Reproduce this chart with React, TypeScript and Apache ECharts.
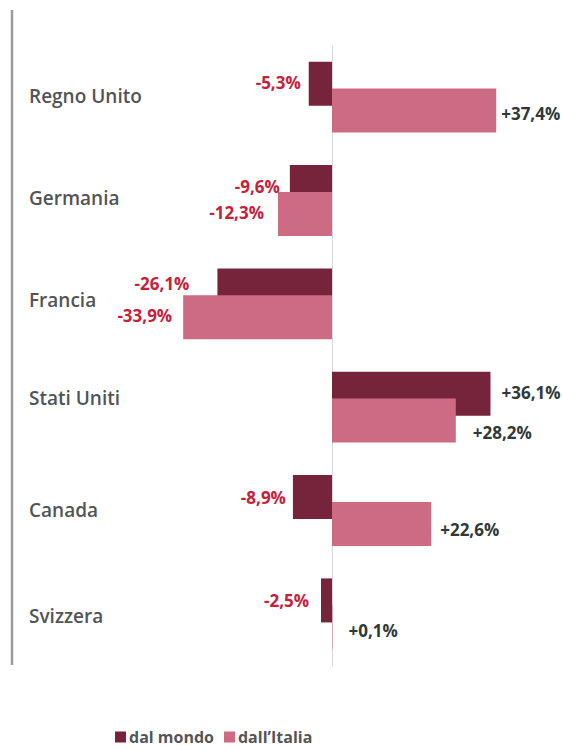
import React, { useEffect, useRef } from "react";
import * as echarts from "echarts";

const categories = ["Regno Unito", "Germania", "Francia", "Stati Uniti", "Canada", "Svizzera"];
const dalMondo = [-5.3, -9.6, -26.1, 36.1, -8.9, -2.5];
const dallItalia = [37.4, -12.3, -33.9, 28.2, 22.6, 0.1];
const seriesNames = ["dal mondo", "dall’Italia"];

// label fine-tuning (dx, dy) per item
const mondoLabelOffsets = [[0, -1], [-2, -1], [-20, -7], [3, -1], [1, 0], [-4, 0]];
const italiaLabelOffsets = [[-3, 3], [-6, -1], [-3, -2], [9, 12], [1, 6], [8, 3]];
// category label vertical shift
const catShift = [-1, -3, -4, -9, -1, 2];

const DARK = "#76243c";
const PINK = "#cd6a84";
const RED = "#c8203a";
const POS = "#2f3939";
const FONT = "'Open Sans', 'DejaVu Sans', sans-serif";

function fmt(v: number) {
  const s = Math.abs(v).toFixed(1).replace(".", ",");
  return (v >= 0 ? "+" : "-") + s + "%";
}

function buildData(values: number[], offsets: number[][]) {
  return values.map((v, i) => ({
    value: v,
    label: {
      show: true,
      position: v >= 0 ? "right" : "left",
      distance: 8,
      offset: offsets[i],
      color: v >= 0 ? POS : RED,
      formatter: () => fmt(v),
    },
  }));
}

export default function App() {
  const ref = useRef<HTMLDivElement>(null);
  useEffect(() => {
    if (!ref.current) return;
    const chart = echarts.init(ref.current, null, { renderer: "svg" });
    const pxPerUnit = 4.39;
    const zeroX = 332;
    const min = -60;
    const max = 40;
    const gridLeft = zeroX + min * pxPerUnit;
    const rich: Record<string, any> = {};
    catShift.forEach((d, i) => {
      rich["c" + i] = {
        fontFamily: FONT,
        fontSize: 19,
        fontWeight: 600,
        color: "#525455",
        padding: d < 0 ? [0, 0, -2 * d, 0] : [2 * d, 0, 0, 0],
      };
    });
    chart.setOption({
      animation: false,
      textStyle: { fontFamily: FONT },
      grid: {
        left: gridLeft,
        width: (max - min) * pxPerUnit,
        top: 45.5,
        height: 620,
        containLabel: false,
        outerBoundsMode: "none",
      },
      legend: {
        data: seriesNames,
        icon: "rect",
        itemWidth: 11,
        itemHeight: 11,
        itemGap: 10,
        left: 110,
        top: 724,
        textStyle: { fontFamily: FONT, fontSize: 16, fontWeight: 700, color: "#555", padding: [0, 0, 0, -2] },
      },
      xAxis: {
        type: "value",
        min,
        max,
        axisLabel: { show: false },
        axisLine: { show: false },
        axisTick: { show: false },
        splitLine: { show: false },
      },
      yAxis: {
        type: "category",
        data: categories,
        inverse: true,
        axisLine: { show: true, onZero: true, lineStyle: { color: "#d9d9d9", width: 1 } },
        axisTick: { show: false },
        axisLabel: {
          interval: 0,
          align: "left",
          margin: gridLeft - 29,
          formatter: (val: string, idx: number) => `{c${idx}|${val}}`,
          rich,
        },
      },
      graphic: [
        {
          type: "line",
          shape: { x1: 12, y1: 10, x2: 12, y2: 665 },
          style: { stroke: "#9b9b9b", lineWidth: 2.5 },
        },
      ],
      series: [
        {
          name: seriesNames[0],
          type: "bar",
          barWidth: 44,
          barGap: "-39%",
          itemStyle: { color: DARK },
          label: { fontFamily: FONT, fontSize: 17, fontWeight: 700 },
          data: buildData(dalMondo, mondoLabelOffsets),
        },
        {
          name: seriesNames[1],
          type: "bar",
          barWidth: 44,
          barGap: "-39%",
          itemStyle: { color: PINK },
          label: { fontFamily: FONT, fontSize: 17, fontWeight: 700 },
          data: buildData(dallItalia, italiaLabelOffsets),
        },
      ],
    });
    return () => chart.dispose();
  }, []);
  return (
    <div
      ref={ref}
      style={{ position: "fixed", left: 0, top: 0, width: 562, height: 750, background: "#fff" }}
    />
  );
}
